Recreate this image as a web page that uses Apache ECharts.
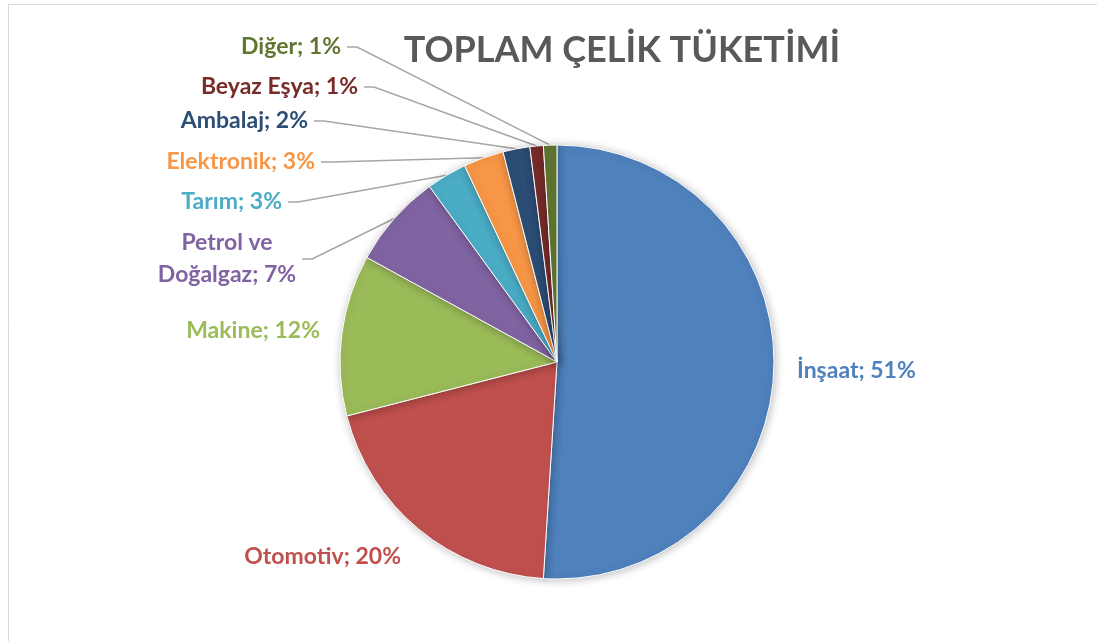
<!DOCTYPE html>
<html>
<head>
<meta charset="utf-8">
<script src="https://cdn.jsdelivr.net/npm/echarts@6/dist/echarts.min.js"></script>
<style>
html,body{margin:0;padding:0;background:#fff;}
#main{width:1097px;height:641px;}
</style>
</head>
<body>
<div id="main"></div>
<script>
const categories = ['İnşaat', 'Otomotiv', 'Makine', 'Petrol ve\nDoğalgaz', 'Tarım', 'Elektronik', 'Ambalaj', 'Beyaz Eşya', 'Diğer'];
const values = [51, 20, 12, 7, 3, 3, 2, 1, 1];
const colors = ['#4F81BD', '#C0504D', '#9BBB59', '#8064A2', '#4BACC6', '#F79646', '#2C4D75', '#772C2A', '#5F7530'];
const showLine = [false, false, false, true, true, true, true, true, true];
// label anchor positions (layout only; includes 6px label padding)
const labelPos = [
  [791, 371, 'left'],
  [407, 557, 'right'],
  [326, 331, 'right'],
  [227, 259, 'center'],
  [288, 202, 'right'],
  [321, 162, 'right'],
  [314, 121, 'right'],
  [364, 87, 'right'],
  [347, 47, 'right']
];

const FONT = 'Lato';
const chart = echarts.init(document.getElementById('main'));
chart.setOption({
  backgroundColor: '#fff',
  animation: false,
  title: {
    text: 'TOPLAM ÇELİK TÜKETİMİ',
    left: 617, top: 27, textAlign: 'center',
    textStyle: { fontFamily: FONT, fontWeight: 'bold', fontSize: 36, color: '#595959' }
  },
  graphic: [
    { type: 'line', shape: { x1: 8, y1: 4.5, x2: 1097, y2: 4.5 }, style: { stroke: '#d9d9d9', lineWidth: 1 } },
    { type: 'line', shape: { x1: 8.5, y1: 4, x2: 8.5, y2: 641 }, style: { stroke: '#d9d9d9', lineWidth: 1 } }
  ],
  series: [{
    type: 'pie',
    center: [557, 362],
    radius: 217,
    startAngle: 90,
    clockwise: true,
    data: categories.map((c, i) => ({
      name: c, value: values[i],
      itemStyle: { color: colors[i] },
      label: { color: colors[i] },
      labelLine: { show: showLine[i] }
    })),
    itemStyle: { borderColor: '#fff', borderWidth: 1, shadowBlur: 8, shadowColor: 'rgba(0,0,0,0.25)', shadowOffsetX: 1, shadowOffsetY: 1 },
    label: {
      show: true,
      formatter: p => p.name + '; ' + p.value + '%',
      fontFamily: FONT, fontWeight: 'bold', fontSize: 23, lineHeight: 32,
      align: 'center',
      padding: [0, 6, 0, 6]
    },
    labelLine: { show: true, length: 10, length2: 10, lineStyle: { color: '#a6a6a6', width: 1.5 } },
    labelLayout: function (params) {
      const p = labelPos[params.dataIndex];
      return { x: p[0], y: p[1], align: p[2], verticalAlign: 'middle' };
    },
    emphasis: { disabled: true }
  }]
});
</script>
</body>
</html>
